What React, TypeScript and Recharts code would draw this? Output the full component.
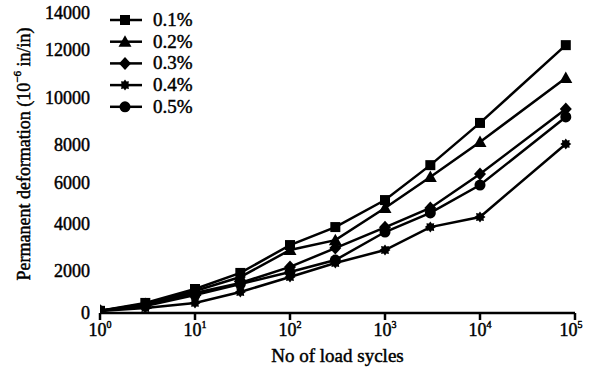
import React from 'react';
import { LineChart, Line, XAxis, YAxis, Legend } from 'recharts';

const cycles = [1, 3, 10, 30, 100, 300, 1000, 3000, 10000, 80000];
const strain01 = [100, 470, 1120, 1870, 3170, 4010, 5270, 6900, 8870, 12500];
const strain02 = [100, 420, 1030, 1680, 2940, 3400, 4900, 6350, 7980, 10970];
const strain03 = [100, 370, 930, 1400, 2150, 3030, 4000, 4900, 6490, 9520];
const strain04 = [90, 230, 470, 980, 1680, 2330, 2940, 4010, 4480, 7890];
const strain05 = [100, 330, 840, 1350, 1910, 2470, 3780, 4670, 5970, 9150];

const seriesNames = ['0.1%', '0.2%', '0.3%', '0.4%', '0.5%'];
const seriesKeys = ['s01', 's02', 's03', 's04', 's05'];
const seriesShapes = ['square', 'triangle', 'diamond', 'star', 'circle'];

const xTicks = [1, 10, 100, 1000, 10000, 100000];
const xTickPowers = ['0', '1', '2', '3', '4', '5'];
const yTickMarks = [0, 1400, 2800, 4200, 5600, 7000, 8400, 9800, 11200, 12600, 14000];
// label positions as drawn in the source figure (slightly off the tick marks)
const yLabelValues = [0, 1960, 4150, 6070, 7840, 10030, 12270, 14000];
const yLabelText = ['0', '2000', '4000', '6000', '8000', '10000', '12000', '14000'];

const data = cycles.map((c, i) => ({
  x: c,
  s01: strain01[i],
  s02: strain02[i],
  s03: strain03[i],
  s04: strain04[i],
  s05: strain05[i],
}));

const FONT = '"Liberation Serif", "Times New Roman", serif';
// slightly heavier than regular, like the scanned figure
const textStyle = { fontFamily: FONT, fill: '#000', stroke: '#000', strokeWidth: 0.45 };

function Marker({ shape, cx, cy }: { shape: string; cx: number; cy: number }) {
  if (cx == null || cy == null) return null;
  switch (shape) {
    case 'square':
      return <rect x={cx - 5} y={cy - 5} width={10} height={10} fill="#000" />;
    case 'triangle':
      return <polygon points={`${cx},${cy - 6.5} ${cx - 6.5},${cy + 5} ${cx + 6.5},${cy + 5}`} fill="#000" />;
    case 'diamond':
      return <polygon points={`${cx},${cy - 6.5} ${cx + 6},${cy} ${cx},${cy + 6.5} ${cx - 6},${cy}`} fill="#000" />;
    case 'star': {
      const pts: string[] = [];
      for (let k = 0; k < 16; k++) {
        const r = k % 2 === 0 ? 5.5 : 3.8;
        const a = (Math.PI * k) / 8;
        pts.push(`${cx + r * Math.cos(a)},${cy + r * Math.sin(a)}`);
      }
      return <polygon points={pts.join(' ')} fill="#000" />;
    }
    default:
      return <circle cx={cx} cy={cy} r={5.5} fill="#000" />;
  }
}

const XTick = (props: any) => {
  const { x, y, index } = props;
  return (
    <text x={x} y={y} textAnchor="middle" fontSize={18} style={textStyle}>
      <tspan dy={14}>10</tspan>
      <tspan dy={-8} fontSize={10}>{xTickPowers[index]}</tspan>
    </text>
  );
};

const YTick = (props: any) => {
  const { x, y, index } = props;
  return (
    <text x={x} y={y} dy={6} textAnchor="end" fontSize={18} style={textStyle}>
      {yLabelText[index]}
    </text>
  );
};

const YTitle = (props: any) => {
  const { viewBox } = props;
  const cx = viewBox.x + 24;
  const cy = viewBox.y + viewBox.height / 2 - 9;
  return (
    <text
      x={cx}
      y={cy}
      transform={`rotate(-90, ${cx}, ${cy})`}
      textAnchor="middle"
      dominantBaseline="central"
      fontSize={18}
      style={textStyle}
    >
      Permanent deformation (10
      <tspan dy={-7} fontSize={11}>−6</tspan>
      <tspan dy={7}> in/in)</tspan>
    </text>
  );
};

const XTitle = (props: any) => {
  const { viewBox } = props;
  return (
    <text
      x={viewBox.x + viewBox.width / 2}
      y={viewBox.y + 49}
      textAnchor="middle"
      fontSize={19}
      style={textStyle}
    >
      No of load sycles
    </text>
  );
};

const LegendBox = (props: any) => {
  const { payload } = props;
  return (
    <svg width={110} height={115}>
      {payload.map((entry: any, i: number) => {
        const cy = 12 + i * 21.7;
        const idx = seriesKeys.indexOf(entry.dataKey);
        return (
          <g key={entry.dataKey}>
            <line x1={2} x2={34} y1={cy} y2={cy} stroke="#000" strokeWidth={2.5} />
            <Marker shape={seriesShapes[idx]} cx={17} cy={cy} />
            <text x={45} y={cy} dy={6} fontSize={19} style={textStyle}>
              {entry.value}
            </text>
          </g>
        );
      })}
    </svg>
  );
};

export default function App() {
  return (
    <div style={{ position: 'absolute', left: 0, top: 0, width: 595, height: 378, background: '#fff' }}>
      <LineChart width={595} height={378} data={data} margin={{ top: 13, right: 20, bottom: 0, left: 0 }}>
        <XAxis
          dataKey="x"
          type="number"
          scale="log"
          domain={[1, 100000]}
          ticks={xTicks}
          allowDataOverflow
          height={65}
          tick={<XTick />}
          tickSize={7}
          tickLine={{ stroke: '#000', strokeWidth: 2.5 }}
          axisLine={{ stroke: '#000', strokeWidth: 2.5 }}
          label={<XTitle />}
        />
        <YAxis
          yAxisId="main"
          type="number"
          domain={[0, 14000]}
          ticks={yTickMarks}
          allowDataOverflow
          width={0}
          tick={false}
          tickSize={7}
          tickLine={{ stroke: '#000', strokeWidth: 2.5 }}
          axisLine={{ stroke: '#000', strokeWidth: 2.5 }}
        />
        <YAxis
          yAxisId="lab"
          type="number"
          domain={[0, 14000]}
          ticks={yLabelValues}
          allowDataOverflow
          width={100}
          tickSize={0}
          tickMargin={10}
          tickLine={false}
          axisLine={false}
          tick={<YTick />}
          label={<YTitle />}
        />
        <Legend
          layout="vertical"
          align="center"
          verticalAlign="middle"
          wrapperStyle={{ left: 108, top: 8, width: 110, height: 115 }}
          content={<LegendBox />}
        />
        {seriesKeys.map((key, i) => (
          <Line
            key={key}
            yAxisId="main"
            dataKey={key}
            name={seriesNames[i]}
            stroke="#000"
            strokeWidth={2.5}
            isAnimationActive={false}
            dot={(p: any) => <Marker key={`${key}-${p.index}`} shape={seriesShapes[i]} cx={p.cx} cy={p.cy} />}
            activeDot={false}
          />
        ))}
      </LineChart>
    </div>
  );
}
